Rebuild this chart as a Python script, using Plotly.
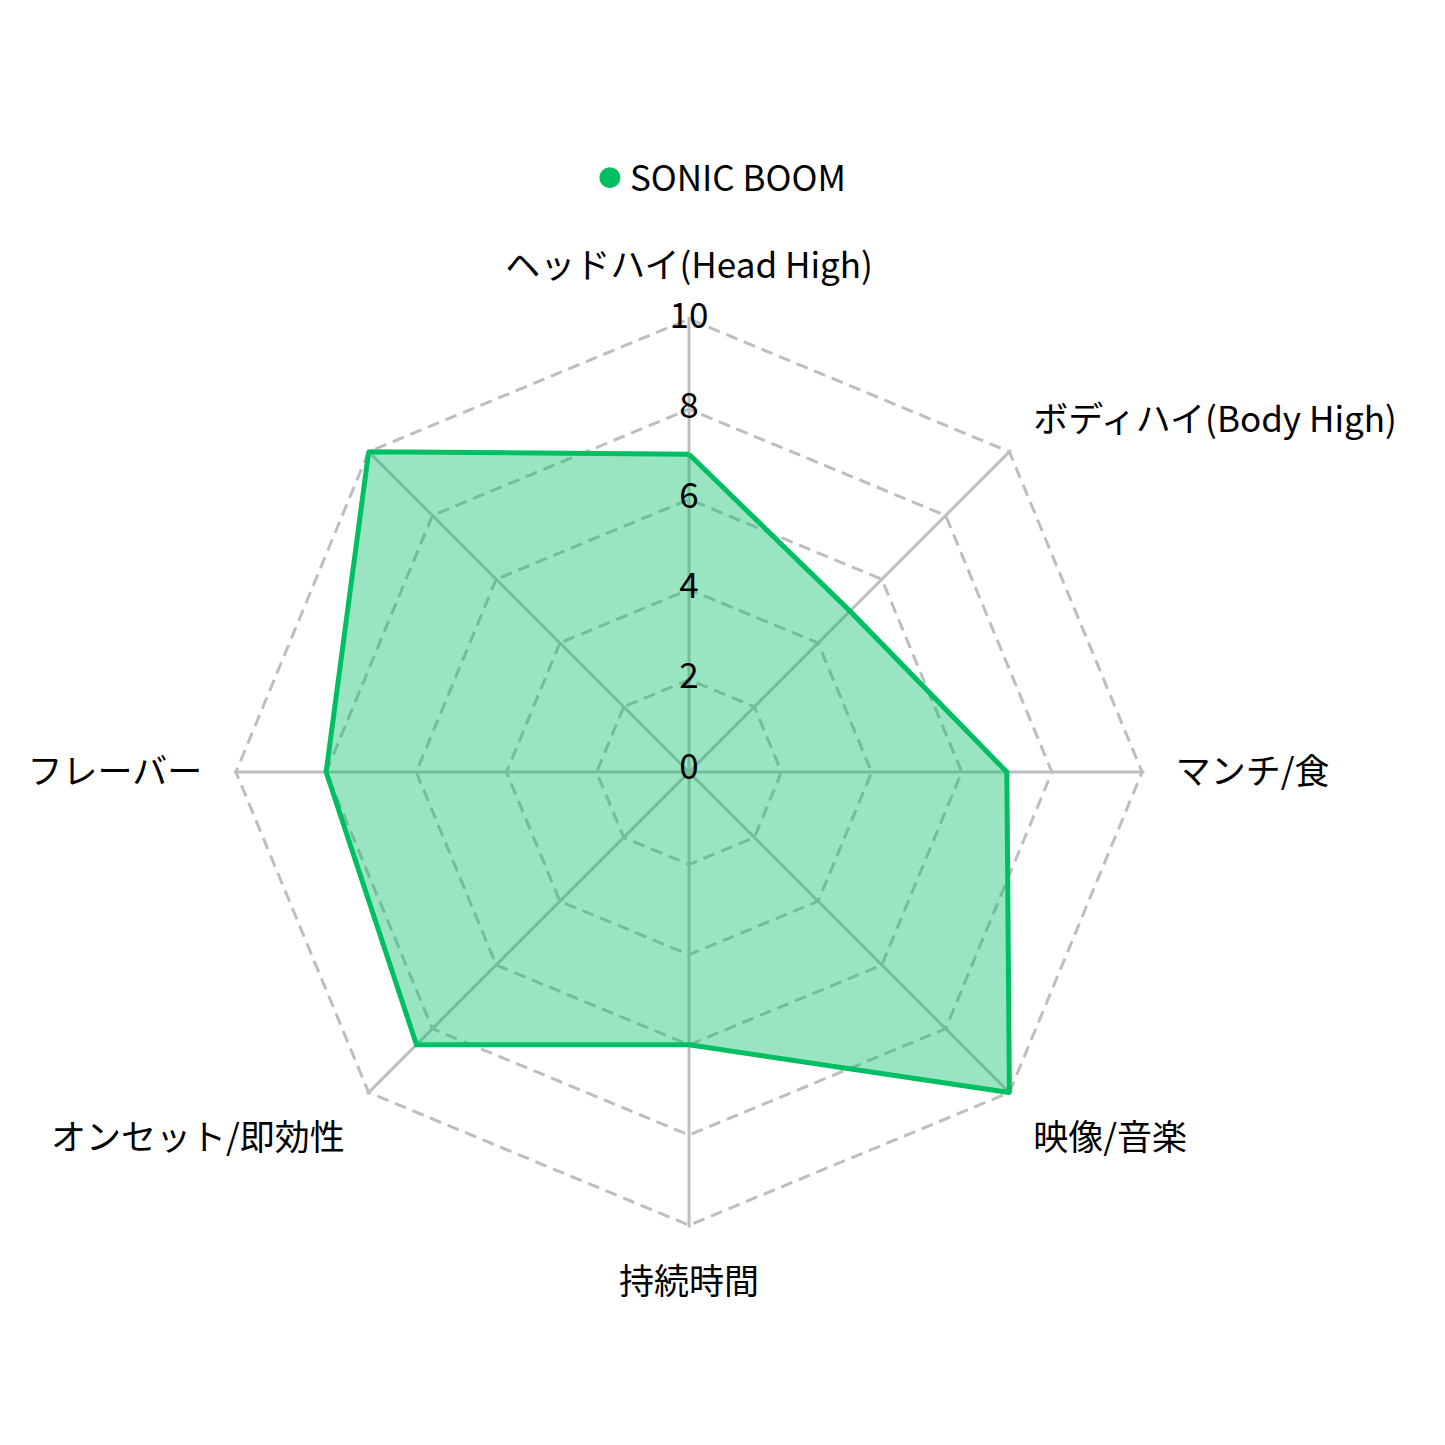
import plotly.graph_objects as go

# radar categories (clockwise from top), last one has no label
categories = ["ヘッドハイ(Head High)", "ボディハイ(Body High)", "マンチ/食", "映像/音楽",
              "持続時間", "オンセット/即効性", "フレーバー", ""]
sonic_boom = [7, 5, 7, 10, 6, 8.5, 8, 10]
tick_vals = [0, 2, 4, 6, 8, 10]

font_family = "Noto Sans CJK JP, Noto Sans, sans-serif"
green = "#00BF63"
r_max = max(tick_vals)
r_range = [-0.05, 10.05]
domain = dict(x=[0.1562, 0.7864], y=[0.1561, 0.7863])

fig = go.Figure()

fig.add_trace(go.Scatterpolar(
    r=sonic_boom + sonic_boom[:1],
    theta=categories + categories[:1],
    name="SONIC BOOM",
    mode="lines",
    line=dict(color=green, width=5),
    fill="toself",
    fillcolor="rgba(0,191,99,0.4)",
    showlegend=False,
))

# legend entry with a round marker
fig.add_trace(go.Scatterpolar(
    r=[None], theta=[None],
    name="SONIC BOOM",
    mode="markers",
    marker=dict(color=green, size=16, symbol="circle", line=dict(color=green, width=5)),
))

# radial tick labels centred on the top spoke:
# outermost one unclipped on the main polar, the inner ones on an overlay polar
for vals, clip, sub in [([v for v in tick_vals if v == r_max], False, "polar"),
                        ([v for v in tick_vals if v < r_max], True, "polar2")]:
    fig.add_trace(go.Scatterpolar(
        r=vals,
        theta=[categories[0]] * len(vals),
        mode="text",
        text=[str(v) for v in vals],
        textposition="middle center",
        textfont=dict(size=35, color="#000", family=font_family),
        cliponaxis=clip,
        subplot=sub,
        showlegend=False,
        hoverinfo="skip",
    ))

fig.update_layout(
    width=1445, height=1445,
    margin=dict(l=0, r=0, t=0, b=0),
    paper_bgcolor="white",
    font=dict(family=font_family, color="#000"),
    showlegend=True,
    legend=dict(orientation="h", x=0.493, xanchor="center", y=0.8824, yanchor="middle",
                font=dict(size=35)),
    polar=dict(
        domain=domain,
        bgcolor="white",
        gridshape="linear",
        radialaxis=dict(range=r_range, tickvals=tick_vals, showticklabels=False,
                        ticks="", showline=False, gridcolor="#bebebe", gridwidth=2.6,
                        griddash="12px,7px"),
        angularaxis=dict(rotation=90, direction="clockwise", ticks="outside",
                         ticklen=24, tickcolor="rgba(0,0,0,0)",
                         showline=False, gridcolor="#bebebe", gridwidth=2.6,
                         tickfont=dict(size=35, color="#000")),
    ),
    polar2=dict(
        domain=domain,
        bgcolor="rgba(0,0,0,0)",
        gridshape="linear",
        radialaxis=dict(range=r_range, showticklabels=False, ticks="", showline=False,
                        showgrid=False),
        angularaxis=dict(type="category", categoryorder="array", categoryarray=categories,
                         rotation=90, direction="clockwise", ticks="", showline=False,
                         showgrid=False, showticklabels=False),
    ),
)

fig.write_html("out.html")
